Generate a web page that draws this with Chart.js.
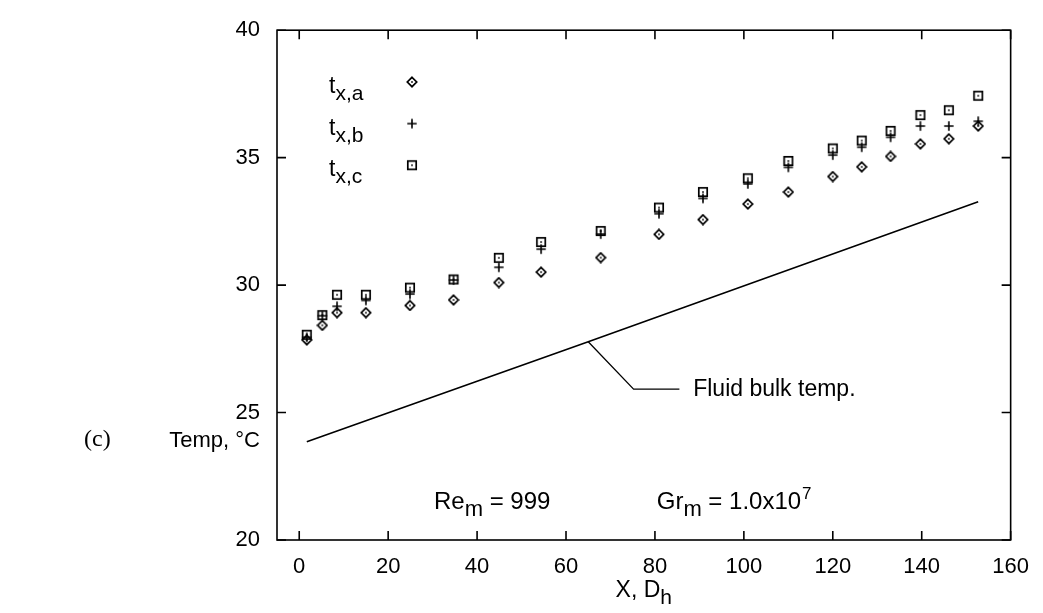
<!DOCTYPE html>
<html>
<head>
<meta charset="utf-8">
<script src="https://cdn.jsdelivr.net/npm/chart.js@4/dist/chart.umd.min.js"></script>
<style>
html,body{margin:0;padding:0;background:#fff;}
#wrap{width:1043px;height:613px;}
</style>
</head>
<body>
<div id="wrap"><canvas id="c" width="1043" height="613"></canvas></div>
<script>
// ---- data ----
const xPos = [1.7, 5.2, 8.5, 15.0, 24.9, 34.7, 44.9, 54.4, 67.8, 80.9, 90.8, 100.9, 110.0, 120.0, 126.5, 133.0, 139.7, 146.1, 152.7];
const tA = [27.85, 28.42, 28.92, 28.92, 29.20, 29.42, 30.10, 30.51, 31.08, 31.99, 32.57, 33.18, 33.65, 34.26, 34.64, 35.05, 35.54, 35.74, 36.24];
const tB = [27.95, 28.80, 29.17, 29.40, 29.65, 30.20, 30.70, 31.41, 32.00, 32.80, 33.40, 33.97, 34.62, 35.10, 35.41, 35.80, 36.24, 36.24, 36.43];
const tC = [28.05, 28.82, 29.62, 29.62, 29.90, 30.22, 31.07, 31.69, 32.12, 33.04, 33.65, 34.19, 34.87, 35.36, 35.67, 36.05, 36.67, 36.86, 37.43];
const bulkX = [1.7, 65.0, 152.7];
const bulkT = [23.85, 27.78, 33.27];
const xTicks = [0, 20, 40, 60, 80, 100, 120, 140, 160];
const yTicks = [20, 25, 30, 35, 40];

// ---- marker images ----
function mk(w, draw){const c=document.createElement('canvas');c.width=w;c.height=w;const g=c.getContext('2d');g.strokeStyle='#000';g.fillStyle='#000';draw(g);return c;}
const diamondImg = mk(12, g=>{g.lineWidth=1.7;g.beginPath();g.moveTo(6,1.3);g.lineTo(10.7,6);g.lineTo(6,10.7);g.lineTo(1.3,6);g.closePath();g.stroke();g.fillRect(5.2,5.2,1.6,1.6);});
const plusImg = mk(12, g=>{g.lineWidth=1.6;g.beginPath();g.moveTo(1.3,6);g.lineTo(10.7,6);g.moveTo(6,1.3);g.lineTo(6,10.7);g.stroke();});
const squareImg = mk(12, g=>{g.lineWidth=1.7;g.strokeRect(1.8,1.8,8.4,8.4);g.fillRect(5.2,5.2,1.6,1.6);});

const pts = ys => xPos.map((x,i)=>({x:x,y:ys[i]}));

const FONT = '"Liberation Sans", Arial, Helvetica, sans-serif';

function subText(ctx, base, sub, x, y, size, subSize){
  ctx.font = size+'px '+FONT;
  ctx.textBaseline='alphabetic';
  ctx.textAlign='left';
  ctx.fillText(base, x, y);
  let w = ctx.measureText(base).width;
  ctx.font = subSize+'px '+FONT;
  ctx.fillText(sub, x+w, y+size*0.3);
  w += ctx.measureText(sub).width;
  return w;
}

const deco = {
  id:'deco',
  afterDraw(chart){
    const {ctx, chartArea:{left,right,top,bottom}, scales:{x,y}} = chart;
    ctx.save();
    ctx.strokeStyle='#000';ctx.fillStyle='#000';
    ctx.lineWidth=1.6;
    ctx.strokeRect(left,top,right-left,bottom-top);
    const L=9;
    ctx.beginPath();
    xTicks.forEach(v=>{const px=x.getPixelForValue(v);ctx.moveTo(px,bottom);ctx.lineTo(px,bottom-L);ctx.moveTo(px,top);ctx.lineTo(px,top+L);});
    yTicks.forEach(v=>{const py=y.getPixelForValue(v);ctx.moveTo(left,py);ctx.lineTo(left+L,py);ctx.moveTo(right,py);ctx.lineTo(right-L,py);});
    ctx.stroke();

    // legend
    const legs=[['x,a',diamondImg],['x,b',plusImg],['x,c',squareImg]];
    legs.forEach((l,i)=>{
      const cy = 82 + i*41.6;
      subText(ctx,'t',l[0],329,cy+11,23,21);
      ctx.drawImage(l[1], 412-6, cy-6);
    });

    // fluid bulk annotation
    const sx=x.getPixelForValue(65.0), sy=y.getPixelForValue(27.78);
    const bx=x.getPixelForValue(75.2), by=y.getPixelForValue(25.92);
    const ex=x.getPixelForValue(85.5);
    ctx.lineWidth=1.3;
    ctx.beginPath();ctx.moveTo(sx,sy);ctx.lineTo(bx,by);ctx.lineTo(ex,by);ctx.stroke();
    ctx.font='23px '+FONT;ctx.textBaseline='middle';ctx.textAlign='left';
    ctx.fillText('Fluid bulk temp.', x.getPixelForValue(88.6), by+1);

    // Re / Gr
    const baseY = y.getPixelForValue(21.23);
    const rx = x.getPixelForValue(30.3);
    const w = subText(ctx,'Re','m',rx,baseY,24,22);
    ctx.font='24px '+FONT;ctx.textBaseline='alphabetic';
    ctx.fillText(' = 999', rx+w, baseY);
    const gx = x.getPixelForValue(80.4);
    const w2 = subText(ctx,'Gr','m',gx,baseY,24,22);
    ctx.font='24px '+FONT;
    const s1=' = 1.0x10';
    ctx.fillText(s1, gx+w2, baseY);
    const w3 = ctx.measureText(s1).width;
    ctx.font='17px '+FONT;
    ctx.fillText('7', gx+w2+w3+1, baseY-10);

    // axis titles
    const ty = y.getPixelForValue(23.88);
    ctx.font='22px '+FONT;ctx.textAlign='right';ctx.textBaseline='middle';
    ctx.fillText('Temp, \u00B0C', 260, ty);
    ctx.font='24px "Liberation Serif", "Times New Roman", serif';ctx.textAlign='left';
    ctx.fillText('(c)', 84, ty-1);
    const tx = x.getPixelForValue(77.5);
    ctx.font='23px '+FONT;
    const tw = ctx.measureText('X, D').width;
    ctx.font='21px '+FONT;
    const hw = ctx.measureText('h').width;
    subText(ctx,'X, D','h',tx-(tw+hw)/2,597,23,21);
    ctx.restore();
  }
};

new Chart(document.getElementById('c'), {
  data:{
    datasets:[
      {type:'line', label:'Fluid bulk temp.', data:bulkX.map((x,i)=>({x:x,y:bulkT[i]})), borderColor:'#000', borderWidth:1.6, pointRadius:0, fill:false, tension:0},
      {type:'scatter', label:'t_x,a', data:pts(tA), pointStyle:diamondImg, pointRadius:6},
      {type:'scatter', label:'t_x,b', data:pts(tB), pointStyle:plusImg, pointRadius:6},
      {type:'scatter', label:'t_x,c', data:pts(tC), pointStyle:squareImg, pointRadius:6}
    ]
  },
  options:{
    responsive:false, animation:false,
    layout:{padding:{left:0,right:26,top:20,bottom:0}},
    plugins:{legend:{display:false}, tooltip:{enabled:false}},
    scales:{
      x:{type:'linear', min:-5, max:160,
         afterBuildTicks:s=>{s.ticks=xTicks.map(v=>({value:v}));},
         afterFit:s=>{s.height=73;},
         grid:{display:false, drawTicks:false}, border:{display:false},
         ticks:{color:'#000', font:{family:FONT,size:22}, padding:14, maxRotation:0}},
      y:{type:'linear', min:20, max:40,
         afterBuildTicks:s=>{s.ticks=yTicks.map(v=>({value:v}));},
         afterFit:s=>{s.width=277;},
         grid:{display:false, drawTicks:false}, border:{display:false},
         ticks:{color:'#000', font:{family:FONT,size:22}, padding:17}}
    }
  },
  plugins:[deco]
});
</script>
</body>
</html>
